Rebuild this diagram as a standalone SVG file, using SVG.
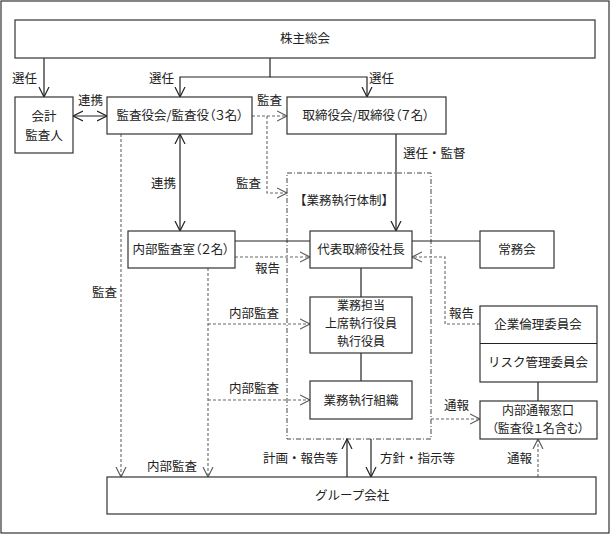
<svg xmlns="http://www.w3.org/2000/svg" width="612" height="535" viewBox="0 0 612 535">
<style>
text{font-family:"Noto Sans CJK JP","Liberation Sans",sans-serif;font-size:12.5px;fill:#222}
.m{text-anchor:middle}
.p{font-feature-settings:"palt"}
.s{font-size:12px}
.box{fill:#fff;stroke:#333;stroke-width:1.2}
.ln{fill:none;stroke:#222;stroke-width:1.2}
.ds{fill:none;stroke:#666;stroke-width:1.1;stroke-dasharray:3,2}
.dd{fill:none;stroke:#444;stroke-width:1;stroke-dasharray:5,2,1,2}
</style>
<defs>
<marker id="a" markerUnits="userSpaceOnUse" markerWidth="12" markerHeight="12" refX="10" refY="5" orient="auto-start-reverse" viewBox="0 0 12 10"><path d="M0,0 L10,5 L0,10" fill="none" stroke="#222" stroke-width="1.2"/></marker>
<marker id="g" markerUnits="userSpaceOnUse" markerWidth="12" markerHeight="12" refX="10" refY="5" orient="auto" viewBox="0 0 12 10"><path d="M0,0 L10,5 L0,10" fill="none" stroke="#555" stroke-width="1.1"/></marker>
</defs>
<rect x="1" y="1" width="608" height="532" fill="#fff" stroke="#333" stroke-width="1.2"/>
<g id="frame-exec">
<rect class="dd" x="287" y="173" width="144" height="266"/>
<text x="294" y="205">【業務執行体制】</text>
</g>
<g id="connectors">
<path class="ln" d="M44,58 V97" marker-end="url(#a)"/>
<path class="ln" d="M270,58 V77 H180 V97" marker-end="url(#a)"/>
<path class="ln" d="M270,77 H367 V97" marker-end="url(#a)"/>
<path class="ln" d="M73,116 H107" marker-start="url(#a)" marker-end="url(#a)"/>
<path class="ds" d="M252,116 H287" marker-end="url(#g)"/>
<path class="ds" d="M267,116 V193 H287" marker-end="url(#g)"/>
<path class="ln" d="M180,134 V231" marker-start="url(#a)" marker-end="url(#a)"/>
<path class="ds" d="M121,134 V477" marker-end="url(#g)"/>
<path class="ln" d="M396,134 V231" marker-end="url(#a)"/>
<path class="ln" d="M235,241 H310"/>
<path class="ds" d="M235,257 H310" marker-end="url(#g)"/>
<path class="ln" d="M412,241 H480"/>
<path class="ds" d="M480,324 H445 V257 H412" marker-end="url(#g)"/>
<path class="ln" d="M361,268 V297"/>
<path class="ln" d="M361,353 V381"/>
<path class="ds" d="M208,268 V477" marker-end="url(#g)"/>
<path class="ds" d="M208,324 H310" marker-end="url(#g)"/>
<path class="ds" d="M208,400 H310" marker-end="url(#g)"/>
<path class="ds" d="M431,419 H480" marker-end="url(#g)"/>
<path class="ln" d="M538,382 V401"/>
<path class="ln" d="M347,477 V439" marker-end="url(#a)"/>
<path class="ln" d="M371,439 V477" marker-end="url(#a)"/>
<path class="ds" d="M538,477 V439" marker-end="url(#g)"/>
<text x="12" y="83">選任</text>
<text x="149" y="83">選任</text>
<text x="369" y="83">選任</text>
<text x="78" y="105">連携</text>
<text x="257" y="105">監査</text>
<text x="403" y="158">選任・監督</text>
<text x="151" y="188">連携</text>
<text x="236" y="188">監査</text>
<text x="255" y="273">報告</text>
<text x="92" y="297">監査</text>
<text x="229" y="318">内部監査</text>
<text x="449" y="318">報告</text>
<text x="229" y="393">内部監査</text>
<text x="444" y="410">通報</text>
<text x="263" y="463">計画・報告等</text>
<text x="380" y="463">方針・指示等</text>
<text x="507" y="463">通報</text>
<text x="147" y="471">内部監査</text>
</g>
<g id="shareholders">
<rect class="box" x="15" y="20" width="580" height="38"/>
<text class="m" x="305" y="43">株主総会</text>
</g>
<g id="auditor">
<rect class="box" x="15" y="97" width="58" height="56"/>
<text class="m" x="44" y="121">会計</text>
<text class="m" x="44" y="140">監査人</text>
</g>
<g id="kansayaku">
<rect class="box" x="107" y="97" width="145" height="37"/>
<text class="m p" x="180" y="120">監査役会/監査役（３名）</text>
</g>
<g id="board">
<rect class="box" x="287" y="97" width="159" height="37"/>
<text class="m p" x="366" y="120">取締役会/取締役（７名）</text>
</g>
<g id="internal-audit">
<rect class="box" x="128" y="231" width="107" height="37"/>
<text class="m p" x="181" y="254">内部監査室（２名）</text>
</g>
<g id="president">
<rect class="box" x="310" y="231" width="102" height="37"/>
<text class="m" x="361" y="254">代表取締役社長</text>
</g>
<g id="jomukai">
<rect class="box" x="480" y="231" width="74" height="37"/>
<text class="m" x="517" y="254">常務会</text>
</g>
<g id="officers">
<rect class="box" x="310" y="297" width="102" height="56"/>
<text class="m s" x="361" y="310">業務担当</text>
<text class="m s" x="361" y="328">上席執行役員</text>
<text class="m s" x="361" y="346">執行役員</text>
</g>
<g id="exec-org">
<rect class="box" x="310" y="381" width="102" height="38"/>
<text class="m" x="361" y="405">業務執行組織</text>
</g>
<g id="committees">
<rect class="box" x="480" y="306" width="117" height="76"/>
<path class="ln" d="M480,343.5 H597"/>
<text class="m" x="538" y="329">企業倫理委員会</text>
<text class="m" x="538" y="367">リスク管理委員会</text>
</g>
<g id="hotline">
<rect class="box" x="480" y="401" width="117" height="38"/>
<text class="m s" x="538" y="414.5">内部通報窓口</text>
<text class="m s p" x="538" y="432.5">（監査役１名含む）</text>
</g>
<g id="group">
<rect class="box" x="107" y="477" width="489" height="37"/>
<text x="315" y="500">グループ会社</text>
</g>
</svg>
